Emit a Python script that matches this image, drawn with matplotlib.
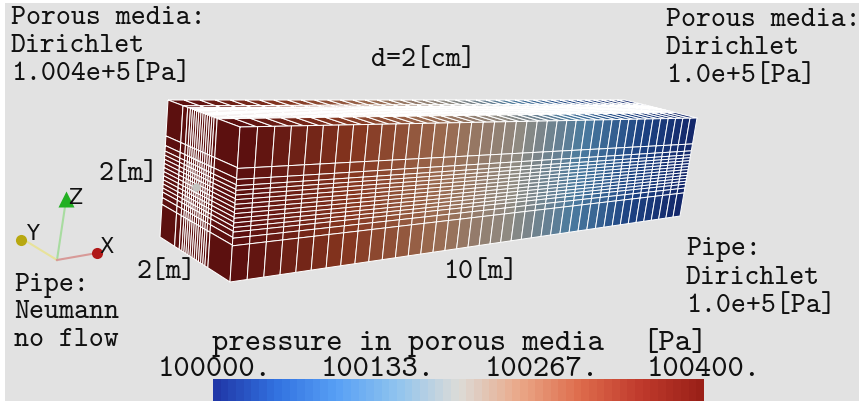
import numpy as np
import matplotlib
matplotlib.use("Agg")
import matplotlib.pyplot as plt
from matplotlib.colors import LinearSegmentedColormap, Normalize
from matplotlib.cm import ScalarMappable

# pressure per column along the 10 m length
pressure = [100400, 100390, 100380, 100370, 100360, 100350, 100340, 100330,
            100320, 100310, 100300, 100290, 100280, 100270, 100260, 100250,
            100240, 100230, 100220, 100210, 100200, 100190, 100180, 100170,
            100160, 100150, 100140, 100130, 100120, 100110, 100100, 100090,
            100080, 100070, 100060, 100050, 100040, 100030, 100020, 100010,
            100000]
x_edges = np.arange(42) / 41 * 10
y_edges = [0, .23, .30, .34, .37, .40, .43, .46, .49, .52, .55, .58, .61,
           .64, .67, .71, 1.0]
z_edges = [0, .26, .33, .37, .40, .43, .46, .49, .52, .55, .58, .61, .64,
           .67, .71, .76, 1.0]

box_colors = ["#14286b", "#1d4382", "#4a7a9e", "#8f8a82", "#9a6a4f",
              "#85361f", "#5c100f"]
bar_colors = ["#2038a8", "#3272e0", "#58a0f5", "#90c4ee", "#dcdcd8", "#eaa888",
              "#de6c4c", "#c03a2c", "#9a2018"]
tick_labels = ["100000.", "100133.", "100267.", "100400."]

BG = "#e2e2e2"


def homography(src, dst):
    rows, rhs = [], []
    for (u, v), (x, y) in zip(src, dst):
        rows.append([u, v, 1, 0, 0, 0, -u * x, -v * x])
        rows.append([0, 0, 0, u, v, 1, -u * y, -v * y])
        rhs += [x, y]
    return np.append(np.linalg.solve(np.array(rows, float), np.array(rhs, float)), 1).reshape(3, 3)


def face(ax, us, vs, corners, vals, cmap, norm, lw=1.0):
    # corners: (u0,v0) (u1,v0) (u1,v1) (u0,v1)
    H = homography([(us[0], vs[0]), (us[-1], vs[0]), (us[-1], vs[-1]), (us[0], vs[-1])], corners)
    U, V = np.meshgrid(us, vs)
    w = H[2, 0] * U + H[2, 1] * V + H[2, 2]
    X = (H[0, 0] * U + H[0, 1] * V + H[0, 2]) / w
    Y = (H[1, 0] * U + H[1, 1] * V + H[1, 2]) / w
    C = np.tile(vals, (len(vs) - 1, 1))
    ax.pcolormesh(X, Y, C, cmap=cmap, norm=norm, edgecolors="white", linewidth=lw,
                  antialiased=True, snap=False)


fig = plt.figure(figsize=(8.59, 4.01), dpi=100, facecolor="white")
ax = fig.add_axes([0, 0, 1, 1])
ax.set_xlim(0, 859)
ax.set_ylim(401, 0)
ax.axis("off")
ax.add_patch(plt.Rectangle((5, 3), 854, 398, color=BG, lw=0, zorder=0))

box_cmap = LinearSegmentedColormap.from_list("box", box_colors)
norm = Normalize(100000, 100400)

# top, left end and long front face of the block
face(ax, x_edges, y_edges, [(168, 100), (625, 100), (697, 118), (240, 127)], pressure, box_cmap, norm, 0.75)
face(ax, y_edges, z_edges, [(168, 100), (240, 127), (230, 282), (160, 237)], [100400] * (len(y_edges) - 1), box_cmap, norm, 0.75)
face(ax, x_edges, z_edges, [(240, 127), (697, 118), (680, 216), (230, 282)], pressure, box_cmap, norm, 0.7)
ax.plot(196, 187, "o", ms=6, color="#c4c4c0", mec="none")

# orientation triad
ax.plot([57, 66], [260, 200], color="#a8dca0", lw=1.5)
ax.plot([57, 21], [260, 238], color="#e8e29a", lw=1.5)
ax.plot([57, 97], [260, 253], color="#d89a98", lw=1.5)
ax.plot(66, 199, "^", ms=11, color="#22b022", mec="none")
ax.plot(21, 240, "o", ms=8, color="#b8a810", mec="none")
ax.plot(97, 253, "o", ms=8, color="#b01818", mec="none")
for s, x, y in [("Z", 75, 198), ("Y", 32, 234), ("X", 106, 247)]:
    ax.text(x, y, s, fontsize=15, family="DejaVu Sans", ha="center", va="center", color="#111111")

# annotations
mono = dict(family="cmtt10", color="#111111", va="center", ha="left", fontsize=20.5)
for lines, x, y0 in [(["Porous media:", "Dirichlet", "1.004e+5[Pa]"], 11, 19),
                     (["Porous media:", "Dirichlet", "1.0e+5[Pa]"], 666, 20),
                     (["Pipe:", "Dirichlet", "1.0e+5[Pa]"], 686, 250),
                     (["Pipe:", "Neumann", "no flow"], 14, 285)]:
    for i, s in enumerate(lines):
        ax.text(x, y0 + i * 28, s, **mono)
ax.text(371, 60, "d=2[cm]", **mono)
ax.text(98, 174, "2[m]", **mono)
ax.text(137, 272, "2[m]", **mono)
ax.text(443, 272, "10[m]", **mono)

ax.text(212, 344, "pressure in porous media", **{**mono, "fontsize": 22.4})
ax.text(642, 344, "[Pa]", **{**mono, "fontsize": 22.4})
for s, x in zip(tick_labels, [158, 321, 485, 647]):
    ax.text(x, 370, s, **{**mono, "fontsize": 22.4})

# colorbar, runs off the bottom of the frame
cax = fig.add_axes([213 / 859, 0, (704 - 213) / 859, 22 / 401])
bar_cmap = LinearSegmentedColormap.from_list("bar", bar_colors, N=64)
cb = fig.colorbar(ScalarMappable(norm=norm, cmap=bar_cmap), cax=cax, orientation="horizontal")
cb.outline.set_visible(False)
cb.set_ticks([])

fig.savefig("out.png", dpi=100)
